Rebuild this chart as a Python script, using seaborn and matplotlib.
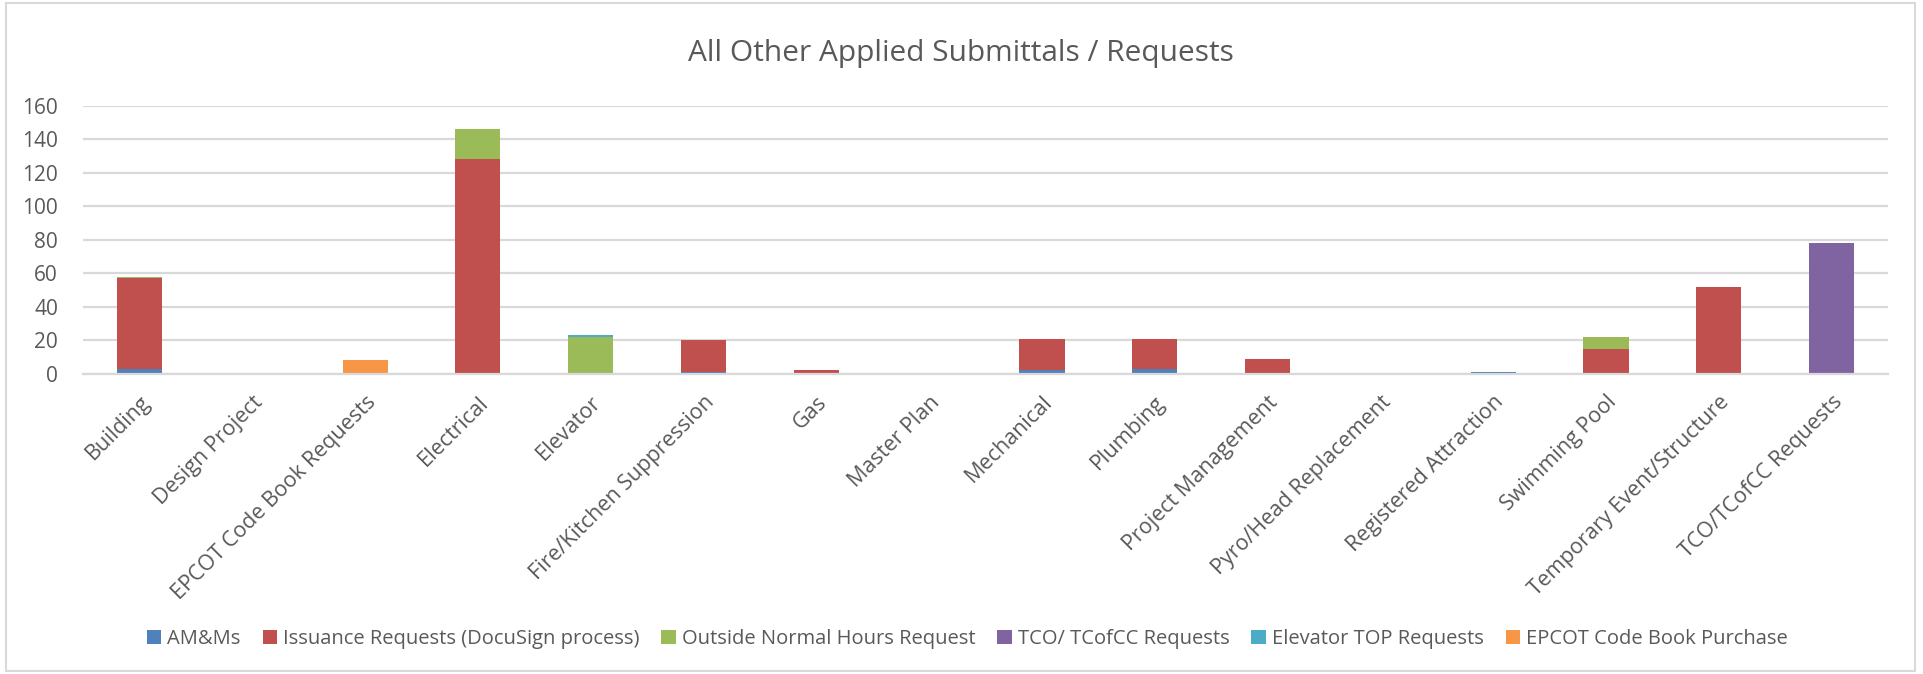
import matplotlib
matplotlib.use("Agg")
import matplotlib.pyplot as plt
import seaborn as sns
import numpy as np
import pandas as pd
from matplotlib.patches import Rectangle

categories = ["Building", "Design Project", "EPCOT Code Book Requests", "Electrical",
              "Elevator", "Fire/Kitchen Suppression", "Gas", "Master Plan", "Mechanical",
              "Plumbing", "Project Management", "Pyro/Head Replacement",
              "Registered Attraction", "Swimming Pool", "Temporary Event/Structure",
              "TCO/TCofCC Requests"]

am_ms        = [3, 0, 0, 0, 0, 1, 0, 0, 2, 3, 0, 0, 1, 0, 0, 0]
issuance     = [54, 0, 0, 128, 0, 19, 2, 0, 19, 18, 9, 0, 0, 15, 52, 0]
outside      = [1, 0, 0, 18, 22, 0, 0, 0, 0, 0, 0, 0, 0, 7, 0, 0]
tco          = [0, 0, 0, 0, 0, 0, 0, 0, 0, 0, 0, 0, 0, 0, 0, 78]
elevator_top = [0, 0, 0, 0, 1, 0, 0, 0, 0, 0, 0, 0, 0, 0, 0, 0]
epcot_book   = [0, 0, 8, 0, 0, 0, 0, 0, 0, 0, 0, 0, 0, 0, 0, 0]

series_names = ["AM&Ms", "Issuance Requests (DocuSign process)", "Outside Normal Hours Request",
                "TCO/ TCofCC Requests", "Elevator TOP Requests", "EPCOT Code Book Purchase"]
series_values = [am_ms, issuance, outside, tco, elevator_top, epcot_book]
colors = ["#4F81BD", "#C0504D", "#9BBB59", "#8064A2", "#4BACC6", "#F79646"]

title = "All Other Applied Submittals / Requests"
yticks = [0, 20, 40, 60, 80, 100, 120, 140, 160]

sns.set_theme(style="white")
plt.rcParams["font.family"] = ["Open Sans", "DejaVu Sans"]
text_color = "#595959"
grid_color = "#D9D9D9"

fig = plt.figure(figsize=(19.23, 6.74), dpi=100)
ax = fig.add_axes([0.0432, 0.4455, 0.9386, 0.3977])

bottom = np.zeros(len(categories))
for name, vals, col in zip(series_names, series_values, colors):
    df = pd.DataFrame({"category": categories, "value": vals})
    sns.barplot(data=df, x="category", y="value", order=categories, color=col,
                bottom=bottom, width=0.4, label=name, ax=ax,
                linewidth=0, saturation=1, errorbar=None)
    bottom = bottom + np.array(vals, dtype=float)

handles, labels = ax.get_legend_handles_labels()
if ax.get_legend() is not None:
    ax.get_legend().remove()

ax.set_ylim(0, 160)
ax.set_xlim(-0.5, len(categories) - 0.5)
ax.set_yticks(yticks)
ax.yaxis.grid(True, color=grid_color, linewidth=1.6)
ax.set_axisbelow(True)
for s in ["top", "right", "left"]:
    ax.spines[s].set_visible(False)
ax.spines["bottom"].set_color(grid_color)
ax.spines["bottom"].set_linewidth(1.6)
ax.set_xlabel("")
ax.set_ylabel("")
ax.tick_params(axis="both", length=0, colors=text_color)
ax.tick_params(axis="y", pad=18, labelsize=15)
ax.set_xticks(range(len(categories)))
ax.set_xticklabels(categories, rotation=45, ha="right", rotation_mode="anchor",
                   color=text_color, fontsize=15.5)
ax.tick_params(axis="x", pad=13)

fig.text(0.4995, 0.92, title, ha="center", va="center", fontsize=21.5, color=text_color)

fig.legend(handles, labels, loc="center", bbox_to_anchor=(0.503, 0.052), ncol=6,
           frameon=False, fontsize=14.5, handlelength=0.7, handleheight=0.7,
           handletextpad=0.3, columnspacing=1.1, labelcolor=text_color)

fig.patches.append(Rectangle((0.003, 0.005), 0.993, 0.99, transform=fig.transFigure,
                             fill=False, edgecolor=grid_color, linewidth=1.5))

fig.savefig("out.png", dpi=100)
